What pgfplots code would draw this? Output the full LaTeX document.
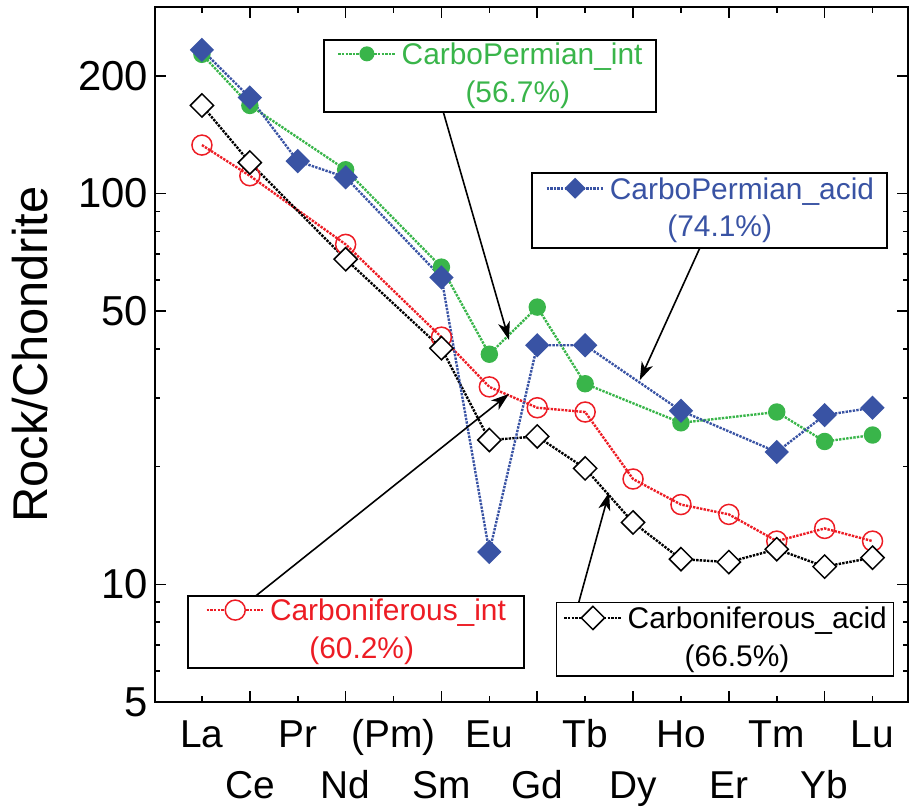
\documentclass[border=0pt]{standalone}
\usepackage{fontspec}
\setmainfont{Liberation Sans}
\usepackage{pgfplots}
\pgfplotsset{compat=1.18}
\usetikzlibrary{arrows.meta}
\definecolor{grn}{HTML}{39B54A}
\definecolor{blu}{HTML}{3953A4}
\definecolor{rd}{HTML}{ED1C24}
\newcommand{\samp}[2]{\tikz[baseline=-5.4bp]{\draw[#1, line width=1.3bp, dash pattern=on 1.2bp off 0.6bp] (0,0)--(28.5bp,0); #2}}
\begin{document}
\begin{tikzpicture}
\path[use as bounding box] (-77.5bp,-53.5bp) rectangle (377.5bp,351bp);
\begin{axis}[
  at={(0,0)}, anchor=south west,
  ymode=log, log basis y=10,
  width=376.5bp, height=347.5bp, scale only axis,
  xmin=-0.98, xmax=14.74, ymin=5, ymax=300,
  xtick={1,3,5,7,9,11,13},
  xticklabels={{\strut\\\strut Ce},{\strut\\\strut Nd},{\strut\\\strut Sm},{\strut\\\strut Gd},{\strut\\\strut Dy},{\strut\\\strut Er},{\strut\\\strut Yb}},
  extra x ticks={0,2,4,6,8,10,12,14},
  extra x tick labels={\strut La,\strut Pr,\strut (Pm),\strut Eu,\strut Tb,\strut Ho,\strut Tm,\strut Lu},
  extra x tick style={major tick length=3bp},
  xticklabel style={align=center, font=\fontsize{19.5}{25.5}\selectfont, yshift=-1.5bp},
  ytick={5,10,50,100,200},
  yticklabels={5,10,50,100,200},
  minor ytick={6,7,8,9,20,30,40,60,70,80,90,300},
  yticklabel style={font=\fontsize{21}{25}\selectfont},
  major tick length=5.5bp, minor tick length=2.5bp,
  tick align=inside,
  axis line style={line width=1bp},
  every tick/.style={black, line width=0.8bp},
  ylabel={Rock/Chondrite},
  ylabel style={font=\fontsize{24.5}{28}\selectfont, at={(axis description cs:-0.166,0.5)}, anchor=center},
  clip=false,
]
% Carboniferous_int
\addplot[rd, line width=1.2bp, dash pattern=on 1.2bp off 0.6bp, mark=o, mark size=5bp, mark options={solid, fill=white, line width=0.75bp}]
 coordinates {(0,133)(1,111)(3,74.1)(5,42.9)(6,32.0)(7,28.3)(8,27.6)(9,18.6)(10,16.0)(11,15.1)(12,12.9)(13,13.9)(14,12.9)};
% Carboniferous_acid
\addplot[black, line width=1.2bp, dash pattern=on 1.2bp off 0.6bp, mark=square*, mark size=4.1bp, mark options={solid, rotate=45, fill=white, line width=0.75bp}]
 coordinates {(0,168)(1,120)(3,67.9)(5,40.2)(6,23.4)(7,23.9)(8,19.8)(9,14.4)(10,11.6)(11,11.4)(12,12.3)(13,11.1)(14,11.7)};
% CarboPermian_int
\addplot[grn, line width=1.2bp, dash pattern=on 1.2bp off 0.6bp, mark=*, mark size=3.75bp, mark options={solid}]
 coordinates {(0,227)(1,168)(3,115)(5,64.8)(6,38.8)(7,51.2)(8,32.6)(10,25.9)(12,27.6)(13,23.2)(14,24.1)};
% CarboPermian_acid
\addplot[blu, line width=1.2bp, dash pattern=on 1.2bp off 0.6bp, mark=square*, mark size=3.7bp, mark options={solid, rotate=45}]
 coordinates {(0,233)(1,176)(2,121)(3,110)(5,61)(6,12.1)(7,40.9)(8,40.9)(10,27.8)(12,21.8)(13,27.1)(14,28.3)};

\coordinate (g1) at (axis cs:5.03,163); \coordinate (g2) at (axis cs:6.41,42.2);
\coordinate (b1) at (axis cs:10.40,72.8); \coordinate (b2) at (axis cs:9.14,33.3);
\coordinate (r1) at (axis cs:1.09,9.27); \coordinate (r2) at (axis cs:6.41,30.7);
\coordinate (k1) at (axis cs:7.85,8.84); \coordinate (k2) at (axis cs:8.50,17.2);
\coordinate (gb) at (axis cs:6.01,200);
\coordinate (bb) at (axis cs:10.6,90.6);
\coordinate (rb) at (axis cs:3.21,7.55);
\coordinate (kb) at (axis cs:10.92,7.24);
\end{axis}

% arrows
\draw[black, line width=0.8bp, -{Stealth[length=9bp,width=6bp,inset=2.5bp]}] (g1) -- (g2);
\draw[black, line width=0.8bp, -{Stealth[length=9bp,width=6bp,inset=2.5bp]}] (b1) -- (b2);
\draw[black, line width=0.8bp, -{Stealth[length=9bp,width=6bp,inset=2.5bp]}] (r1) -- (r2);
\draw[black, line width=0.8bp, -{Stealth[length=9bp,width=6bp,inset=2.5bp]}] (k1) -- (k2);

% boxes
\node[draw=black, line width=0.9bp, fill=white, align=center, minimum width=166bp, minimum height=35bp, inner sep=1.5bp, font=\fontsize{15}{19}\selectfont, text=grn]
 at (gb) {\samp{grn}{\fill[grn] (14.25bp,0) circle (3.75bp);}\hspace{2.5bp}CarboPermian\_int\\\hspace*{28bp}(56.7\%)};
\node[draw=black, line width=0.9bp, fill=white, align=center, minimum width=177.5bp, minimum height=37.5bp, inner sep=1.5bp, font=\fontsize{15}{19}\selectfont, text=blu]
 at (bb) {\samp{blu}{\fill[blu] (14.25bp,5.2bp) -- (19.45bp,0) -- (14.25bp,-5.2bp) -- (9.05bp,0) -- cycle;}\hspace{2.5bp}CarboPermian\_acid\\\hspace*{10bp}(74.1\%)};
\node[draw=black, line width=0.9bp, fill=white, align=center, minimum width=168bp, minimum height=35bp, inner sep=1.5bp, font=\fontsize{15}{19}\selectfont, text=rd]
 at (rb) {\samp{rd}{\filldraw[draw=rd, fill=white, line width=0.75bp] (14.25bp,0) circle (5bp);}\hspace{2.5bp}Carboniferous\_int\\\hspace*{6bp}(60.2\%)};
\node[draw=black, line width=0.9bp, fill=white, align=center, minimum width=168.5bp, minimum height=33.5bp, inner sep=1.5bp, font=\fontsize{15}{19}\selectfont, text=black]
 at (kb) {\samp{black}{\filldraw[draw=black, fill=white, line width=0.75bp] (14.25bp,5.8bp) -- (20.05bp,0) -- (14.25bp,-5.8bp) -- (8.45bp,0) -- cycle;}\hspace{2.5bp}Carboniferous\_acid\\\hspace*{12bp}(66.5\%)};
\end{tikzpicture}
\end{document}
